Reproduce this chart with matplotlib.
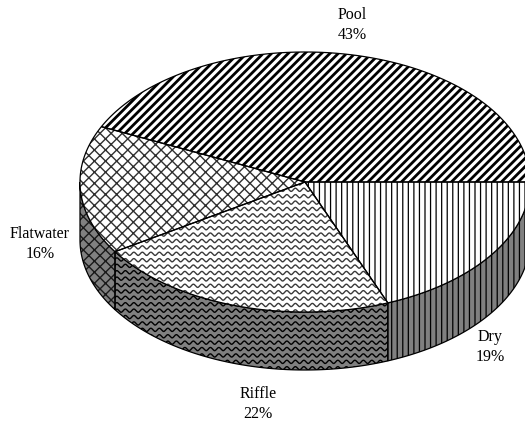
import numpy as np
import matplotlib.pyplot as plt
from matplotlib.patches import Polygon

# data
labels = ['Pool', 'Flatwater', 'Riffle', 'Dry']
shares = [43, 16, 22, 19]

# styles per slice
hatches = ['////', 'xxx', 'wave', '|||']
hatch_lw = [2.0, 1.0, 1.0, 0.9]
hatch_col = ['black', '#303030', '#3a3a3a', 'black']

# layout (pixels)
cx, cy = 305, 183
rx, ry = 225, 130
depth = 58
label_xy = [(352, 25), (40, 244), (258, 404), (490, 347)]

plt.rcParams['font.family'] = ['Liberation Serif', 'DejaVu Serif']

fig = plt.figure(figsize=(5.25, 4.27), dpi=100)
ax = fig.add_axes([0, 0, 1, 1])
ax.set_xlim(0, 525)
ax.set_ylim(427, 0)
ax.axis('off')


def arc(a0, a1, dz=0, n=120):
    t = np.radians(np.linspace(a0, a1, n))
    return np.column_stack([cx + rx * np.cos(t), cy - ry * np.sin(t) + dz])


def draw(xy, face, hatch, hcol, hlw, z):
    ax.add_patch(Polygon(xy, closed=True, facecolor=face, edgecolor='none', zorder=z))
    if hatch == 'wave':
        clip = Polygon(xy, closed=True, facecolor='none', edgecolor='none')
        ax.add_patch(clip)
        xs = np.arange(xy[:, 0].min() - 10, xy[:, 0].max() + 10, 0.5)
        for y0 in np.arange(xy[:, 1].min() - 5, xy[:, 1].max() + 8, 6.4):
            ln, = ax.plot(xs, y0 + 1.6 * np.sin(2 * np.pi * xs / 8.5), color=hcol,
                          lw=hlw, zorder=z + 0.1)
            ln.set_clip_path(clip)
    else:
        with plt.rc_context({'hatch.linewidth': hlw}):
            p = Polygon(xy, closed=True, facecolor='none', edgecolor=hcol, lw=0,
                        hatch=hatch, zorder=z + 0.1)
            if hasattr(p, 'set_hatch_linewidth'):
                p.set_hatch_linewidth(hlw)
            ax.add_patch(p)
    ax.add_patch(Polygon(xy, closed=True, facecolor='none', edgecolor='black',
                         lw=0.9, zorder=z + 0.2))


angles = np.concatenate([[0], np.cumsum(shares) / np.sum(shares) * 360])

# side walls (front half only)
for i in range(len(shares)):
    s0, s1 = max(angles[i], 180), min(angles[i + 1], 360)
    if s0 < s1:
        top = arc(s0, s1)
        bot = arc(s0, s1, depth)[::-1]
        draw(np.vstack([top, bot]), '#808080', hatches[i],
             '#1a1a1a' if hatches[i] == 'xxx' else 'black', hatch_lw[i], 1)

# top faces
for i in range(len(shares)):
    xy = np.vstack([[cx, cy], arc(angles[i], angles[i + 1])])
    draw(xy, 'white', hatches[i], hatch_col[i], hatch_lw[i], 3)

for i, (x, y) in enumerate(label_xy):
    ax.text(x, y, f'{labels[i]}\n{shares[i]}%', ha='center', va='center',
            fontsize=11.5, linespacing=1.3)

fig.savefig('out.png', dpi=100)
